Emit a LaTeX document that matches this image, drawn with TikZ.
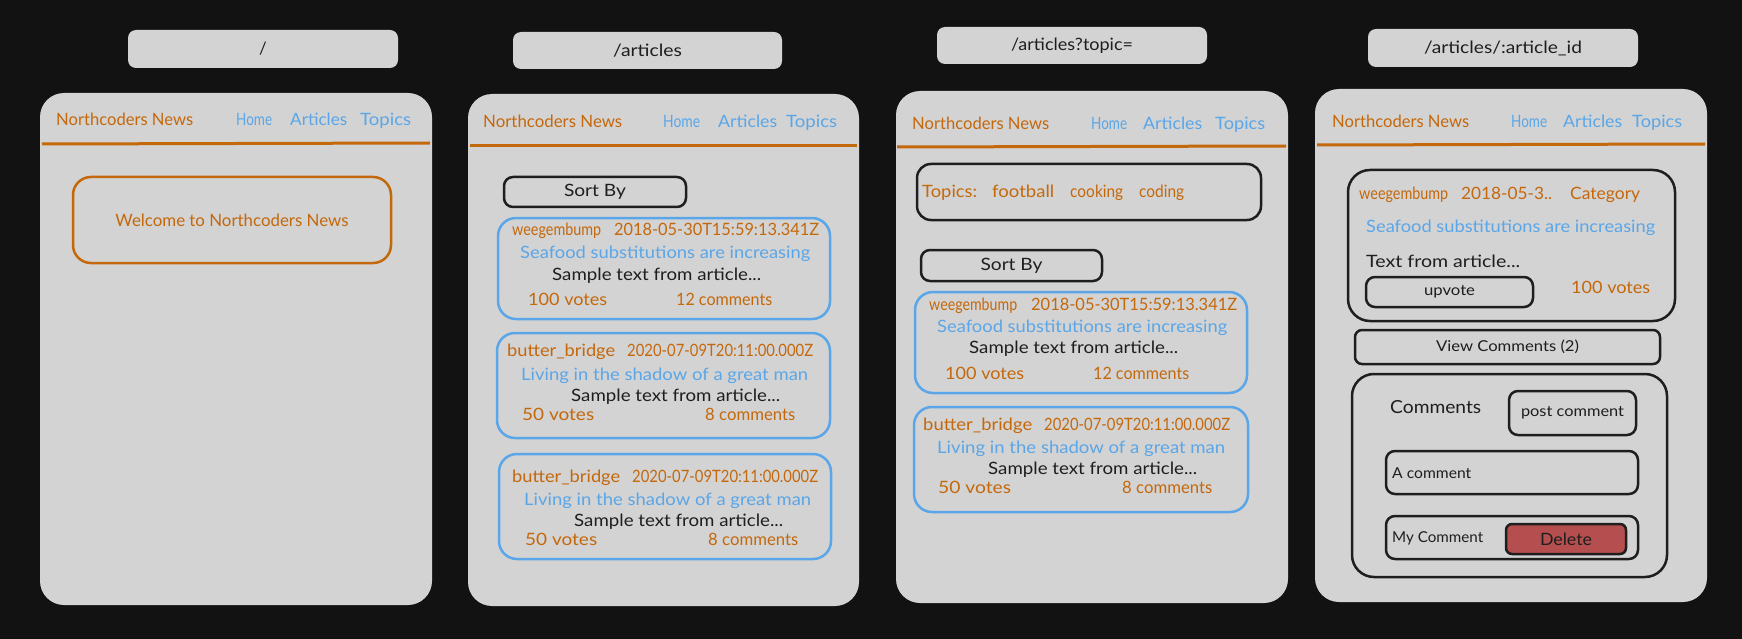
\documentclass[tikz,border=0pt]{standalone}
\usepackage{fontspec}
\setmainfont{Lato}
\definecolor{bgc}{RGB}{18,18,18}
\definecolor{panelc}{RGB}{211,211,211}
\definecolor{orc}{RGB}{196,104,12}
\definecolor{blc}{RGB}{90,166,232}
\definecolor{inkc}{RGB}{30,30,30}
\definecolor{delc}{RGB}{181,78,78}
\newcommand\myfs[1]{\fontsize{#1}{#1}\selectfont}
\newcommand\fw[2]{\resizebox{#1pt}{\height}{#2}}
\tikzset{
  panel/.style={fill=panelc, rounded corners=24pt, inner sep=0},
  urlbox/.style={fill=panelc, rounded corners=8pt, inner sep=0, text=inkc, font=\myfs{17}},
  card/.style={draw=blc, line width=2.5pt, rounded corners=18pt, inner sep=0},
  obox/.style={draw=orc, line width=2.5pt, rounded corners=18pt, inner sep=0, text=orc, font=\myfs{17}},
  kbox/.style={draw=inkc, line width=2.5pt, rounded corners=9pt, inner sep=0, text=inkc, font=\myfs{17}},
  kbig/.style={kbox, rounded corners=22pt},
  hline/.style={draw=orc, line width=3pt},
  t/.style={inner sep=0, anchor=base west, font=\myfs{17}},
  ts/.style={t, font=\myfs{15}},
  tor/.style={text=orc}, tbl/.style={text=blc}, tink/.style={text=inkc},
}
\begin{document}
\begin{tikzpicture}[x=1pt,y=-1pt]
\fill[bgc] (0,0) rectangle (1742,639);

% ---------- Panel 1: /
\node[panel, minimum width=392, minimum height=512] (p1) at (236,349) {};
\node[urlbox, minimum width=270, minimum height=38] (u1) at (263,49) {/};
\coordinate (h1a) at (42,144); \coordinate (h1b) at (430,143);
\draw[hline] (h1a) -- (h1b);
\node[t,tor] (p1n) at (56,126) {\fw{137}{Northcoders News}};
\node[t,tbl] (p1h) at (236,126) {\fw{36}{Home}};
\node[t,tbl] (p1a) at (290,126) {\fw{57}{Articles}};
\node[t,tbl] (p1o) at (360,126) {\fw{51}{Topics}};
\node[obox, minimum width=318, minimum height=86] (w1) at (232,220) {\fw{233}{Welcome to Northcoders News}};

% ---------- Panel 2: /articles
\node[panel, minimum width=391, minimum height=512] (p2) at (663.5,350) {};
\node[urlbox, minimum width=269, minimum height=37] (u2) at (647.5,50.5) {\fw{69}{/articles}};
\coordinate (h2a) at (470,146); \coordinate (h2b) at (857,146);
\draw[hline] (h2a) -- (h2b);
\node[t,tor] (p2n) at (483,128) {\fw{139}{Northcoders News}};
\node[t,tbl] (p2h) at (663,128) {\fw{37}{Home}};
\node[t,tbl] (p2a) at (718,128) {\fw{59}{Articles}};
\node[t,tbl] (p2o) at (786,128) {\fw{51}{Topics}};
\node[kbox, minimum width=182, minimum height=30] (s2) at (595,192) {\fw{62}{Sort By}};
% card 1
\node[card, minimum width=332, minimum height=101] (c21) at (664,268.5) {};
\node[t,tor] (c21u) at (512,236) {\fw{89}{weegembump}};
\node[t,tor] (c21d) at (614,236) {\fw{205}{2018-05-30T15:59:13.341Z}};
\node[t,tbl] (c21s) at (520,258) {\fw{290}{Seafood substitutions are increasing}};
\node[t,tink] (c21b) at (552,280) {\fw{209}{Sample text from article...}};
\node[t,tor] (c21v) at (528,305) {\fw{79}{100 votes}};
\node[t,tor] (c21c) at (676,305) {\fw{96}{12 comments}};
% card 2
\node[card, minimum width=333, minimum height=105] (c22) at (663.5,385.5) {};
\node[t,tor] (c22u) at (507,356) {\fw{108}{butter\_bridge}};
\node[t,tor] (c22d) at (627,356) {\fw{186}{2020-07-09T20:11:00.000Z}};
\node[t,tbl] (c22s) at (521,380) {\fw{287}{Living in the shadow of a great man}};
\node[t,tink] (c22b) at (571,401) {\fw{209}{Sample text from article...}};
\node[t,tor] (c22v) at (522,420) {\fw{72}{50 votes}};
\node[t,tor] (c22c) at (705,420) {\fw{90}{8 comments}};
% card 3
\node[card, minimum width=332, minimum height=105] (c23) at (665,506.5) {};
\node[t,tor] (c23u) at (512,482) {\fw{108}{butter\_bridge}};
\node[t,tor] (c23d) at (632,482) {\fw{186}{2020-07-09T20:11:00.000Z}};
\node[t,tbl] (c23s) at (524,505) {\fw{287}{Living in the shadow of a great man}};
\node[t,tink] (c23b) at (574,526) {\fw{209}{Sample text from article...}};
\node[t,tor] (c23v) at (525,545) {\fw{72}{50 votes}};
\node[t,tor] (c23c) at (708,545) {\fw{90}{8 comments}};

% ---------- Panel 3: /articles?topic=
\node[panel, minimum width=392, minimum height=512] (p3) at (1092,347) {};
\node[urlbox, minimum width=270, minimum height=37] (u3) at (1072,45.5) {\fw{122}{/articles?topic=}};
\coordinate (h3a) at (897,147); \coordinate (h3b) at (1286,146);
\draw[hline] (h3a) -- (h3b);
\node[t,tor] (p3n) at (912,130) {\fw{137}{Northcoders News}};
\node[t,tbl] (p3h) at (1091,130) {\fw{36}{Home}};
\node[t,tbl] (p3a) at (1143,130) {\fw{59}{Articles}};
\node[t,tbl] (p3o) at (1215,130) {\fw{50}{Topics}};
\node[kbox, rounded corners=14pt, minimum width=344, minimum height=56] (tp3) at (1089,192) {};
\node[t,tor] (tp3a) at (922,197) {\fw{55}{Topics:}};
\node[t,tor] (tp3b) at (992,197) {\fw{62}{football}};
\node[t,tor] (tp3c) at (1070,197) {\fw{53}{cooking}};
\node[t,tor] (tp3d) at (1139,197) {\fw{45}{coding}};
\node[kbox, minimum width=181, minimum height=31] (s3) at (1011.5,265.5) {\fw{62}{Sort By}};
% card 1
\node[card, minimum width=332, minimum height=101] (c31) at (1081,342.5) {};
\node[t,tor] (c31u) at (929,310) {\fw{88}{weegembump}};
\node[t,tor] (c31d) at (1031,310) {\fw{206}{2018-05-30T15:59:13.341Z}};
\node[t,tbl] (c31s) at (937,332) {\fw{290}{Seafood substitutions are increasing}};
\node[t,tink] (c31b) at (969,353) {\fw{209}{Sample text from article...}};
\node[t,tor] (c31v) at (945,379) {\fw{79}{100 votes}};
\node[t,tor] (c31c) at (1093,379) {\fw{96}{12 comments}};
% card 2
\node[card, minimum width=334, minimum height=105] (c32) at (1081,459.5) {};
\node[t,tor] (c32u) at (923,430) {\fw{109}{butter\_bridge}};
\node[t,tor] (c32d) at (1044,430) {\fw{186}{2020-07-09T20:11:00.000Z}};
\node[t,tbl] (c32s) at (937,453) {\fw{288}{Living in the shadow of a great man}};
\node[t,tink] (c32b) at (988,474) {\fw{209}{Sample text from article...}};
\node[t,tor] (c32v) at (938,493) {\fw{73}{50 votes}};
\node[t,tor] (c32c) at (1122,493) {\fw{90}{8 comments}};

% ---------- Panel 4: /articles/:article_id
\node[panel, minimum width=392, minimum height=513] (p4) at (1511,345.5) {};
\node[urlbox, minimum width=270, minimum height=38] (u4) at (1503,48) {\fw{158}{/articles/:article\_id}};
\coordinate (h4a) at (1317,145); \coordinate (h4b) at (1705,144);
\draw[hline] (h4a) -- (h4b);
\node[t,tor] (p4n) at (1332,128) {\fw{137}{Northcoders News}};
\node[t,tbl] (p4h) at (1511,128) {\fw{36}{Home}};
\node[t,tbl] (p4a) at (1563,128) {\fw{59}{Articles}};
\node[t,tbl] (p4o) at (1632,128) {\fw{50}{Topics}};
\node[kbig, minimum width=327, minimum height=151] (a4) at (1511.5,245.5) {};
\node[t,tor] (a4u) at (1359,200) {\fw{89}{weegembump}};
\node[t,tor] (a4d) at (1461,200) {\fw{91}{2018-05-3..}};
\node[t,tor] (a4k) at (1570,200) {\fw{70}{Category}};
\node[t,tbl] (a4s) at (1366,232) {\fw{289}{Seafood substitutions are increasing}};
\node[t,tink] (a4b) at (1366,267) {\fw{154}{Text from article...}};
\node[kbox, minimum width=167, minimum height=30, font=\myfs{15}] (up4) at (1449.5,292) {\fw{51}{upvote}};
\node[t,tor] (a4v) at (1571,293) {\fw{79}{100 votes}};
\node[kbox, rounded corners=7pt, minimum width=305, minimum height=34, font=\myfs{15}] (vc4) at (1507.5,347) {\fw{143}{View Comments (2)}};
\node[kbig, minimum width=315, minimum height=203] (cm4) at (1509.5,475.5) {};
\node[t,tink, font=\myfs{18}] (cm4t) at (1390,413) {\fw{91}{Comments}};
\node[kbox, minimum width=127, minimum height=44, font=\myfs{15}] (pc4) at (1572.5,413) {\fw{103}{post comment}};
\node[kbox, minimum width=252, minimum height=43] (ac4) at (1512,472.5) {};
\node[ts,tink] (ac4t) at (1392,478) {\fw{79}{A comment}};
\node[kbox, minimum width=252, minimum height=43] (mc4) at (1512,537.5) {};
\node[ts,tink] (mc4t) at (1392,542) {\fw{91}{My Comment}};
\node[kbox, fill=delc, rounded corners=6pt, minimum width=120, minimum height=30] (del4) at (1566,539) {\fw{52}{Delete}};
\end{tikzpicture}
\end{document}
